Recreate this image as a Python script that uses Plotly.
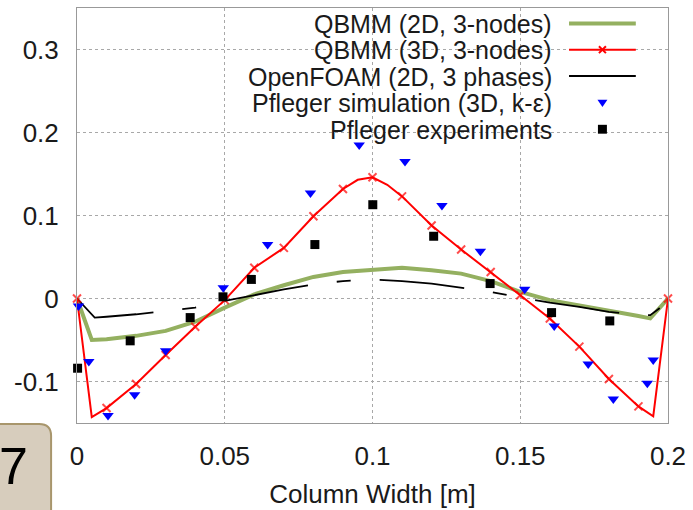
import plotly.graph_objects as go

# ---------------- data ----------------
x_qbmm2d = [0, 0.005, 0.01, 0.02, 0.03, 0.04, 0.05, 0.06, 0.07, 0.08, 0.09, 0.1, 0.11,
            0.12, 0.13, 0.14, 0.15, 0.16, 0.17, 0.18, 0.19, 0.194, 0.2]
y_qbmm2d = [0, -0.050, -0.049, -0.045, -0.039, -0.028, -0.011, 0.005, 0.016, 0.026, 0.032,
            0.035, 0.037, 0.034, 0.030, 0.021, 0.008, -0.002, -0.008, -0.014, -0.021, -0.024, 0]

x_qbmm3d = [0, 0.005, 0.01, 0.02, 0.03, 0.04, 0.05, 0.06, 0.07, 0.08, 0.09, 0.095, 0.1, 0.105,
            0.11, 0.12, 0.13, 0.14, 0.15, 0.16, 0.17, 0.18, 0.19, 0.195, 0.2]
y_qbmm3d = [0, -0.143, -0.132, -0.103, -0.068, -0.034, -0.002, 0.037, 0.061, 0.099, 0.132, 0.143,
            0.146, 0.137, 0.123, 0.088, 0.059, 0.032, 0.004, -0.024, -0.058, -0.097, -0.130, -0.142, 0]
marked_qbmm3d = [1, 0, 1, 1, 1, 1, 1, 1, 1, 1, 1, 0, 1, 0, 1, 1, 1, 1, 1, 1, 1, 1, 1, 0, 1]

x_foam = [0, 0.006, 0.01, 0.02, 0.03, 0.04, 0.05, 0.06, 0.07, 0.08, 0.09, 0.1, 0.11, 0.12,
          0.13, 0.14, 0.15, 0.16, 0.17, 0.18, 0.19, 0.194, 0.197, 0.2]
y_foam = [0, -0.023, -0.022, -0.019, -0.015, -0.011, -0.003, 0.004, 0.011, 0.017, 0.021, 0.023,
          0.021, 0.018, 0.013, 0.008, 0.001, -0.005, -0.010, -0.016, -0.020, -0.020, -0.012, 0]

x_sim = [0.0005, 0.004, 0.0105, 0.0195, 0.030, 0.0495, 0.0645, 0.079, 0.0955, 0.111, 0.1235,
         0.1365, 0.1515, 0.1615, 0.173, 0.1815, 0.193, 0.195]
y_sim = [-0.009, -0.076, -0.141, -0.116, -0.063, 0.013, 0.065, 0.127, 0.185, 0.165, 0.112,
         0.057, 0.011, -0.033, -0.079, -0.121, -0.102, -0.074]

x_exp = [0.0002, 0.018, 0.0383, 0.0494, 0.059, 0.0805, 0.1001, 0.1207, 0.1398, 0.1606, 0.1803]
y_exp = [-0.084, -0.051, -0.023, 0.002, 0.023, 0.065, 0.113, 0.075, 0.018, -0.017, -0.027]

x_ticks = [0, 0.05, 0.1, 0.15, 0.2]
x_ticktext = ["0", "0.05", "0.1", "0.15", "0.2"]
y_ticks = [-0.1, 0, 0.1, 0.2, 0.3]
y_ticktext = ["-0.1", "0", "0.1", "0.2", "0.3"]

legend_names = ["QBMM (2D, 3-nodes)", "QBMM (3D, 3-nodes)", "OpenFOAM (2D, 3 phases)",
                "Pfleger simulation (3D, k-\u03b5)", "Pfleger experiments"]

# ---------------- styling ----------------
W, H = 693, 510
ML, MR, MT, MB = 77, 23, 7, 82
PW, PH = W - ML - MR, H - MT - MB
FONT = "Liberation Sans, Arial, sans-serif"
FS = 26
LFS = 25
TXT = "#1a1a1a"
GREEN = "#94b060"
RED = "#ff0000"
BLUE = "#0000ff"


def px(xp):
    return (xp - ML) / PW


def py(yp):
    return (MT + PH - yp) / PH


fig = go.Figure()

fig.add_trace(go.Scatter(x=x_qbmm2d, y=y_qbmm2d, mode="lines", name=legend_names[0],
                         line=dict(color=GREEN, width=4), showlegend=False))
fig.add_trace(go.Scatter(x=x_foam, y=y_foam, mode="lines", name=legend_names[2],
                         line=dict(color="black", width=1.8, dash="85px,29px,14px,29px"),
                         showlegend=False))
fig.add_trace(go.Scatter(x=x_qbmm3d, y=y_qbmm3d, mode="lines+markers", name=legend_names[1],
                         line=dict(color=RED, width=2),
                         marker=dict(symbol="x-thin", size=[8 if m else 0 for m in marked_qbmm3d],
                                     color=RED, line=dict(color=RED, width=2)),
                         cliponaxis=False, showlegend=False))
fig.add_trace(go.Scatter(x=x_sim, y=y_sim, mode="markers", name=legend_names[3],
                         marker=dict(symbol="triangle-down", size=10, color=BLUE,
                                     line=dict(width=0)),
                         cliponaxis=False, showlegend=False))
fig.add_trace(go.Scatter(x=x_exp, y=y_exp, mode="markers", name=legend_names[4],
                         marker=dict(symbol="square", size=9, color="black", line=dict(width=0)),
                         cliponaxis=False, showlegend=False))

shapes = []
annotations = []

# white legend box hiding the grid
shapes.append(dict(type="rect", xref="paper", yref="paper", x0=px(104), x1=px(653),
                   y0=py(143), y1=py(7), fillcolor="white", line=dict(width=0), layer="between"))

# legend rows
row_y = [23, 49.7, 76.5, 103.5, 130.5]
text_right = 556
s0, s1 = 570.7, 637.7
sc = (s0 + s1) / 2
for name, yy in zip(legend_names, row_y):
    annotations.append(dict(xref="paper", yref="paper", x=px(text_right), y=py(yy),
                            xanchor="right", yanchor="middle", text=name, showarrow=False,
                            font=dict(family=FONT, size=LFS, color=TXT)))
shapes.append(dict(type="line", xref="paper", yref="paper", x0=px(s0), x1=px(s1),
                   y0=py(22.7), y1=py(22.7), line=dict(color=GREEN, width=4)))
shapes.append(dict(type="line", xref="paper", yref="paper", x0=px(s0), x1=px(s1),
                   y0=py(49.3), y1=py(49.3), line=dict(color=RED, width=2)))
for d in (1, -1):
    shapes.append(dict(type="line", xref="paper", yref="paper", x0=px(sc - 3.5), x1=px(sc + 3.5),
                       y0=py(49.3 - 3.5 * d), y1=py(49.3 + 3.5 * d),
                       line=dict(color=RED, width=2)))
shapes.append(dict(type="line", xref="paper", yref="paper", x0=px(s0), x1=px(s1),
                   y0=py(76), y1=py(76), line=dict(color="black", width=2)))
ty = 103.5
shapes.append(dict(type="path", xref="paper", yref="paper",
                   path=f"M {px(sc-5)} {py(ty-3.5)} L {px(sc+5)} {py(ty-3.5)} L {px(sc)} {py(ty+4)} Z",
                   fillcolor=BLUE, line=dict(width=0)))
sy = 130
shapes.append(dict(type="rect", xref="paper", yref="paper", x0=px(sc - 4.5), x1=px(sc + 4.5),
                   y0=py(sy + 4.5), y1=py(sy - 4.5), fillcolor="black", line=dict(width=0)))

# "7" badge bottom-left
bx0, bx1, by0, by1, r = -20, 51, 429, 530, 12
path = (f"M {px(bx0)} {py(by0)} L {px(bx1-r)} {py(by0)} Q {px(bx1)} {py(by0)} {px(bx1)} {py(by0+r)} "
        f"L {px(bx1)} {py(by1)} L {px(bx0)} {py(by1)} Z")
shapes.append(dict(type="path", xref="paper", yref="paper", path=path,
                   fillcolor="#d7cdbd", line=dict(color="#a8966c", width=2)))
annotations.append(dict(xref="paper", yref="paper", x=px(13), y=py(472), xanchor="center",
                        yanchor="middle", text="7", showarrow=False,
                        font=dict(family=FONT, size=52, color="black")))

axis_common = dict(showline=True, mirror=True, linecolor="#999999", linewidth=1,
                   showgrid=True, gridcolor="#a8a8a8", gridwidth=1, griddash="3px,3px",
                   zeroline=False, ticks="", tickfont=dict(family=FONT, size=FS, color=TXT))

fig.update_layout(
    width=W, height=H,
    margin=dict(l=ML, r=MR, t=MT, b=MB),
    paper_bgcolor="white", plot_bgcolor="white",
    showlegend=False,
    xaxis=dict(range=[0, 0.2], tickvals=x_ticks, ticktext=x_ticktext,
               ticklabelstandoff=10,
               title=dict(text="Column Width [m]", font=dict(family=FONT, size=FS, color=TXT),
                          standoff=14),
               **axis_common),
    yaxis=dict(range=[-0.15, 0.35], tickvals=y_ticks, ticktext=y_ticktext,
               ticklabelstandoff=12, **axis_common),
    shapes=shapes,
    annotations=annotations,
)

fig.write_html("out.html", config={"displayModeBar": False},
               post_script="document.body.style.margin='0px';document.body.style.overflow='hidden';")
